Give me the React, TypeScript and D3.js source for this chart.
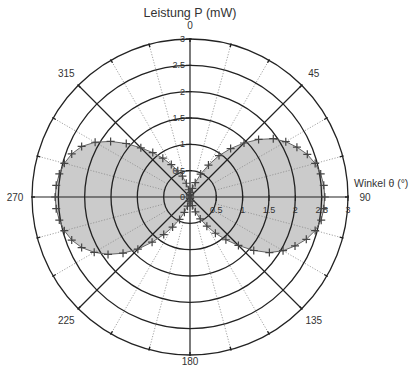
import React from 'react';
import * as d3 from 'd3';

// measured angles (deg, clockwise from top) and power (mW)
const angles = [
  0, 5, 10, 15, 20, 25, 30, 35, 40, 45, 50, 55, 60, 65, 70, 75, 80, 85,
  90, 95, 100, 105, 110, 115, 120, 125, 130, 135, 140, 145, 150, 155, 160, 165, 170, 175,
  180, 185, 190, 195, 200, 205, 210, 215, 220, 225, 230, 235, 240, 245, 250, 255, 260, 265,
  270, 275, 280, 285, 290, 295, 300, 305, 310, 315, 320, 325, 330, 335, 340, 345, 350, 355,
];
const power = [
  0.02, 0.04, 0.09, 0.17, 0.29, 0.48, 0.7, 0.96, 1.2, 1.45, 1.7, 1.93, 2.1, 2.24, 2.37, 2.46, 2.52, 2.55,
  2.56, 2.55, 2.53, 2.46, 2.35, 2.2, 2.04, 1.84, 1.58, 1.3, 1.06, 0.84, 0.64, 0.46, 0.3, 0.17, 0.08, 0.03,
  0.02, 0.03, 0.08, 0.18, 0.31, 0.47, 0.66, 0.87, 1.12, 1.4, 1.66, 1.9, 2.1, 2.27, 2.39, 2.47, 2.52, 2.55,
  2.56, 2.55, 2.52, 2.47, 2.39, 2.27, 2.08, 1.84, 1.58, 1.32, 1.1, 0.9, 0.71, 0.55, 0.42, 0.27, 0.14, 0.05,
];
const ringTicks = [0.5, 1, 1.5, 2, 2.5, 3];
const radialLabels = ['0', '0.5', '1', '1.5', '2', '2.5', '3'];
const angleLabels = [0, 45, 90, 135, 180, 225, 270, 315];
const minorAngles = [15, 30, 60, 75, 105, 120, 150, 165, 195, 210, 240, 255, 285, 300, 330, 345];

const width = 410;
const height = 376;
const cx = 190;
const cy = 197;
const font = 'Liberation Sans, Arial, sans-serif';

const App: React.FC = () => {
  const r = d3.scaleLinear().domain([0, 3]).range([0, 158]);
  const rad = (deg: number) => (deg * Math.PI) / 180;
  const px = (deg: number, v: number) => Math.sin(rad(deg)) * v;
  const py = (deg: number, v: number) => -Math.cos(rad(deg)) * v;

  const points = angles.map((a, i) => ({ a, v: power[i] }));
  const line = d3
    .lineRadial<{ a: number; v: number }>()
    .angle((d) => rad(d.a))
    .radius((d) => r(d.v))
    .curve(d3.curveLinearClosed);

  const R = r(3);
  const ticks15 = d3.range(0, 360, 15);
  const ink = '#222';

  return (
    <svg
      width={width}
      height={height}
      style={{ position: 'absolute', left: 0, top: 0, background: '#fff' }}
    >
      <g transform={`translate(${cx},${cy})`}>
        {/* data fill */}
        <path d={line(points) || ''} fill="#cbcbcb" stroke="none" />

        {/* dotted minor spokes */}
        {minorAngles.map((a) => (
          <line
            key={'m' + a}
            x1={px(a, r(0.5))}
            y1={py(a, r(0.5))}
            x2={px(a, R)}
            y2={py(a, R)}
            stroke="#8a8a8a"
            strokeWidth={0.8}
            strokeDasharray="1.2,1.6"
          />
        ))}

        {/* rings */}
        {ringTicks.map((t) => (
          <circle key={'c' + t} r={r(t)} fill="none" stroke={ink} strokeWidth={1.3} />
        ))}

        {/* major spokes */}
        {angleLabels.map((a) => (
          <line
            key={'s' + a}
            x1={0}
            y1={0}
            x2={px(a, R)}
            y2={py(a, R)}
            stroke={ink}
            strokeWidth={1.2}
          />
        ))}

        {/* outer ring ticks */}
        {ticks15.map((a) => (
          <line
            key={'t' + a}
            x1={px(a, R - 3)}
            y1={py(a, R - 3)}
            x2={px(a, R + 1)}
            y2={py(a, R + 1)}
            stroke={ink}
            strokeWidth={1.4}
          />
        ))}

        {/* axis ticks + labels on vertical axis */}
        {ringTicks.map((t) => (
          <line key={'vt' + t} x1={-4} x2={2} y1={-r(t)} y2={-r(t)} stroke={ink} strokeWidth={1} />
        ))}
        {radialLabels.map((l) => (
          <text
            key={'vl' + l}
            x={-5}
            y={-r(+l)}
            dy="0.35em"
            textAnchor="end"
            fontSize={9}
            fontFamily={font}
            fill="#333"
          >
            {l}
          </text>
        ))}

        {/* axis ticks + labels on horizontal axis */}
        {ringTicks.map((t) => (
          <line key={'ht' + t} x1={r(t)} x2={r(t)} y1={-2} y2={4} stroke={ink} strokeWidth={1} />
        ))}
        {radialLabels.slice(1).map((l) => (
          <text
            key={'hl' + l}
            x={r(+l)}
            y={13}
            dy="0.35em"
            textAnchor="middle"
            fontSize={9}
            fontFamily={font}
            fill="#333"
          >
            {l}
          </text>
        ))}

        {/* outline and markers */}
        <path d={line(points) || ''} fill="none" stroke="#666" strokeWidth={1} />
        {points.map((d) => {
          const x = px(d.a, r(d.v));
          const y = py(d.a, r(d.v));
          return (
            <path
              key={'p' + d.a}
              d={`M${x - 4},${y}H${x + 4}M${x},${y - 4}V${y + 4}`}
              stroke="#444"
              strokeWidth={1.2}
            />
          );
        })}

        {/* angle labels */}
        {angleLabels.map((a) => {
          const lr = a === 180 ? R + 6 : a === 0 ? R + 14 : R + 17;
          return (
            <text
              key={'al' + a}
              x={px(a, lr)}
              y={py(a, lr)}
              dy="0.35em"
              textAnchor="middle"
              fontSize={10}
              fontFamily={font}
              fill="#333"
            >
              {a}
            </text>
          );
        })}
      </g>

      <text x={cx} y={13} dy="0.35em" textAnchor="middle" fontSize={12.5} fontFamily={font} fill="#333">
        Leistung P (mW)
      </text>
      <text x={354} y={183} dy="0.35em" fontSize={10.5} fontFamily={font} fill="#333">
        Winkel θ (°)
      </text>
    </svg>
  );
};

export default App;
